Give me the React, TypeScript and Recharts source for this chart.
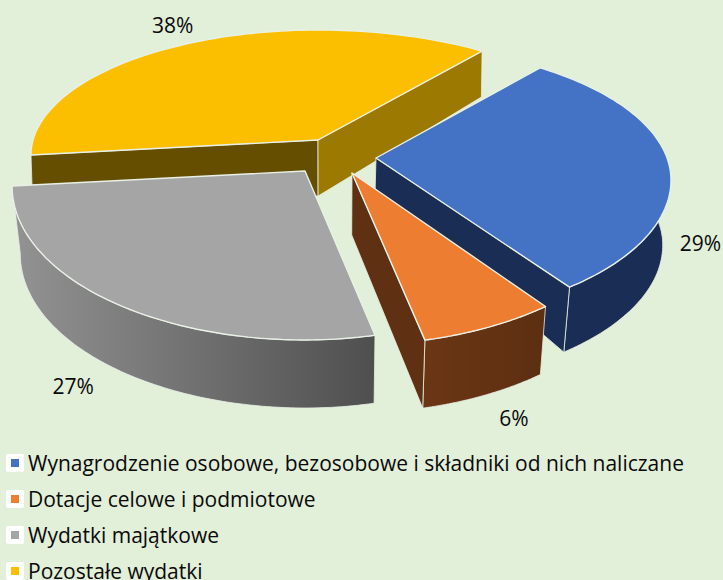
import React from "react";
import { PieChart, Pie, Legend } from "recharts";

const categories = [
  "Wynagrodzenie osobowe, bezosobowe i składniki od nich naliczane",
  "Dotacje celowe i podmiotowe",
  "Wydatki majątkowe",
  "Pozostałe wydatki",
];
const shares = [29, 6, 27, 38];
const topColors = ["#4472c4", "#ed7d31", "#a5a5a5", "#fcbf00"];
const drawOrder = [3, 0, 1, 2];

// 3D look of each slice: explode offset from pie centre, wall depth, label offset
const CX = 340;
const CY = 155;
const RADIUS = 295;
const looks = [
  { ex: 36, ey: 3, scaleL: 1, scaleR: 1, far: 135, near: 142, drop: 22, dApex: 33, dRim: 65, wall: ["#1a2d54", "#1a2d54"], side: "#1a2d54", showFirst: false, showLast: true, lx: 30, ly: 71, shrink: 0.025 },
  { ex: 12, ey: 18, scaleL: 1, scaleR: 1, far: 125, near: 157, drop: 15, dApex: 62, dRim: 68, wall: ["#6b3614", "#5c2f11"], side: "#5f3112", showFirst: false, showLast: true, lx: 25, ly: 91, shrink: 0.025 },
  { ex: -35, ey: 16, scaleL: 0.993, scaleR: 0.96, far: 125, near: 154, drop: 15, dApex: 45, dRim: 68, wall: ["#939393", "#4f4f4f"], side: "#555555", showFirst: false, showLast: false, lx: -52, ly: 78, shrink: 0.025 },
  { ex: -22, ey: -15, scaleL: 0.973, scaleR: 1, far: 125, near: 157, drop: 15, dApex: 56, dRim: 46, wall: ["#654e00", "#654e00"], side: "#9c7900", showFirst: true, showLast: true, lx: -10, ly: -20, shrink: 0.005 },
];
const LEFT_SIDE_YELLOW = "#654e00";
const EDGE = "#e9f1e6";
const warpFrom = [34.2, 138.6, 160.2, 257.4, 394.2];
const warpTo = [33.8, 139, 165.7, 270, 393.8];

const warp = (t: number) => {
  if (t <= warpFrom[0]) return warpTo[0];
  for (let i = 1; i < warpFrom.length; i++) {
    if (t <= warpFrom[i]) {
      const f = (t - warpFrom[i - 1]) / (warpFrom[i] - warpFrom[i - 1]);
      return warpTo[i - 1] + f * (warpTo[i] - warpTo[i - 1]);
    }
  }
  return warpTo[warpTo.length - 1];
};
const norm = (theta: number) =>
  ((((theta - 34.2 + 0.001) % 360) + 360) % 360) + 34.2 - 0.001;

type Pt = { x: number; y: number };

const rim = (theta: number, look: any, cx: number, cy: number, r: number): Pt => {
  const a = (warp(theta) * Math.PI) / 180;
  const c = Math.cos(a);
  const sn = Math.sin(a);
  return {
    x: cx + look.ex + r * (sn < 0 ? look.scaleL : look.scaleR) * sn,
    y: cy + look.ey + look.drop - (c > 0 ? look.far : look.near) * c,
  };
};
const drop = (p: Pt, depth: number, look: any, cx: number): Pt => ({
  x: p.x + (cx - p.x) * look.shrink,
  y: p.y + depth,
});
const path = (pts: Pt[]) =>
  "M" + pts.map((p) => `${p.x.toFixed(1)},${p.y.toFixed(1)}`).join("L") + "Z";

const Slice3D = (props: any) => {
  const { cx, cy, outerRadius, startAngle, endAngle } = props;
  const slot = props.slot ?? props.payload?.slot;
  const look = looks[slot];
  const s = norm(90 - startAngle);
  const sweep = Math.abs(endAngle - startAngle);
  const arc: Pt[] = [];
  const n = 90;
  for (let i = 0; i <= n; i++) arc.push(rim(s + (sweep * i) / n, look, cx, cy, outerRadius));
  const apex = { x: cx + look.ex, y: cy + look.ey };
  const lowRim = (p: Pt) => drop(p, look.dRim, look, cx);
  const lowApex = drop(apex, look.dApex, look, cx);
  const gid = `wall-${slot}`;
  const xs = arc.map((p) => p.x);
  const first = arc[0];
  const last = arc[arc.length - 1];
  return (
    <g>
      <defs>
        <linearGradient id={gid} gradientUnits="userSpaceOnUse" x1={Math.min(...xs)} x2={Math.max(...xs)} y1={0} y2={0}>
          <stop offset="0%" stopColor={look.wall[0]} />
          <stop offset="100%" stopColor={look.wall[1]} />
        </linearGradient>
      </defs>
      <path d={path([...arc, ...arc.map(lowRim).reverse()])} fill={`url(#${gid})`} stroke={EDGE} strokeWidth={0.8} />
      {look.showFirst && (
        <path
          d={path([apex, first, lowRim(first), lowApex])}
          fill={slot === 3 ? LEFT_SIDE_YELLOW : look.side}
          stroke={EDGE}
          strokeWidth={0.8}
        />
      )}
      {look.showLast && (
        <path d={path([apex, last, lowRim(last), lowApex])} fill={look.side} stroke={EDGE} strokeWidth={0.8} />
      )}
      <path d={path([apex, ...arc])} fill={props.fill} stroke={EDGE} strokeWidth={1.4} strokeLinejoin="round" />
    </g>
  );
};

const PercentLabel = (props: any) => {
  const { cx, cy, outerRadius, midAngle, value } = props;
  const slot = props.slot ?? props.payload?.slot;
  const look = looks[slot];
  const p = rim(norm(90 - midAngle), look, cx, cy, outerRadius);
  return (
    <text
      x={p.x + look.lx}
      y={p.y + look.ly}
      textAnchor="middle"
      dominantBaseline="central"
      fontFamily="'Open Sans', sans-serif"
      fontSize={21}
      fill="#0a0a0a"
    >
      {`${value}%`}
    </text>
  );
};

const LegendRows = () => (
  <div style={{ fontFamily: "'Open Sans', sans-serif", fontSize: 21, lineHeight: 1, color: "#0a0a0a" }}>
    {categories.map((name, i) => (
      <div key={name} style={{ display: "flex", alignItems: "center", height: 36, whiteSpace: "nowrap" }}>
        <span
          style={{
            width: 18,
            height: 18,
            marginLeft: 6,
            marginRight: 4,
            background: "#ffffff",
            borderRadius: 2,
            display: "flex",
            alignItems: "center",
            justifyContent: "center",
            flex: "none",
          }}
        >
          <span style={{ width: 8, height: 8, background: topColors[i], display: "block" }} />
        </span>
        <span>{name}</span>
      </div>
    ))}
  </div>
);

const pieData = drawOrder.map((i) => ({ name: categories[i], value: shares[i], slot: i, fill: topColors[i] }));

export default function App() {
  return (
    <div
      style={{
        position: "absolute",
        left: 0,
        top: 0,
        width: 723,
        height: 580,
        overflow: "hidden",
        background: "#e2efd9",
      }}
    >
      <PieChart width={723} height={580} margin={{ top: 0, right: 0, bottom: 0, left: 0 }}>
        <Pie
          data={pieData}
          dataKey="value"
          nameKey="name"
          cx={CX}
          cy={CY}
          innerRadius={0}
          outerRadius={RADIUS}
          startAngle={90 - 257.4}
          endAngle={90 - 257.4 - 360}
          shape={Slice3D}
          label={PercentLabel}
          labelLine={false}
          isAnimationActive={false}
          stroke="none"
        />
        <Legend
          content={LegendRows as any}
          wrapperStyle={{ position: "absolute", left: 0, top: 445, width: 723, bottom: "auto" }}
        />
      </PieChart>
    </div>
  );
}
